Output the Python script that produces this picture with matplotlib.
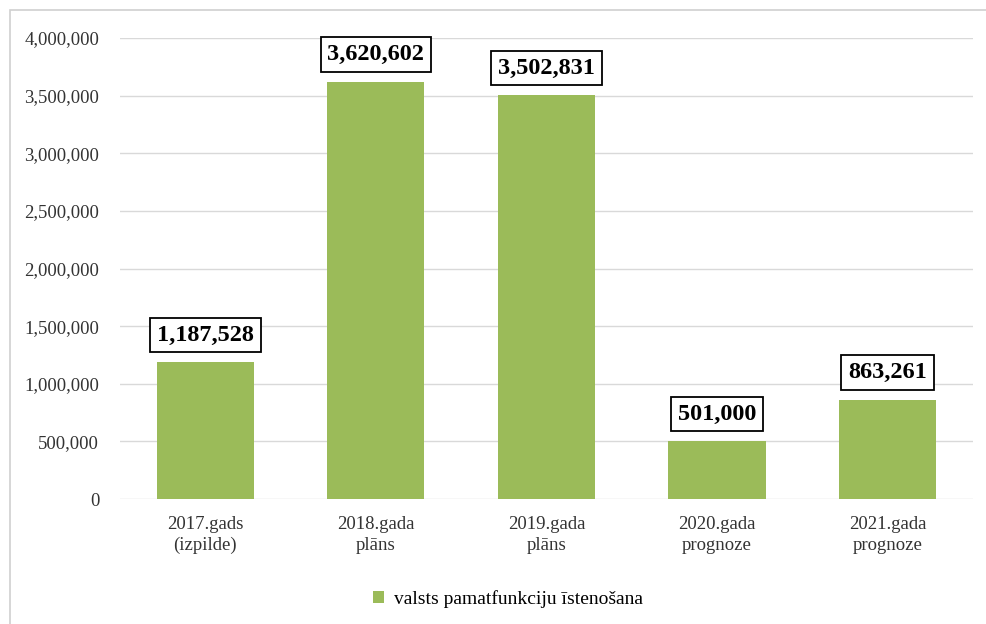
import matplotlib.pyplot as plt
import matplotlib.patches as mpatches
import numpy as np

categories = ['2017.gads\n(izpilde)', '2018.gada\nplāns', '2019.gada\nplāns',
              '2020.gada\nprognoze', '2021.gada\nprognoze']
values = [1187528, 3620602, 3502831, 501000, 863261]
series_name = 'valsts pamatfunkciju īstenošana'

plt.rcParams['font.family'] = ['Liberation Serif', 'DejaVu Serif']

fig = plt.figure(figsize=(9.87, 6.24), dpi=100)
# light outer frame like the source image
fig.patches.append(mpatches.Rectangle((10/987, -0.01), 1.0, 1 - 10/624 + 0.01,
                                      transform=fig.transFigure, fill=False,
                                      edgecolor='#d0d0d0', lw=1.2))
ax = fig.add_axes([0.1216, 0.2003, 0.864, 0.7387])

ind = np.arange(len(categories))
bars = ax.bar(ind, values, width=0.57, color='#9bbb59', label=series_name, zorder=3)

ax.set_xlim(-0.5, len(categories) - 0.5)
ax.set_ylim(0, 4000000)
ax.set_yticks(np.arange(0, 4000001, 500000))
ax.set_yticklabels(['{:,}'.format(int(v)) for v in np.arange(0, 4000001, 500000)],
                   fontsize=13.5, color='#333333')
ax.set_xticks(ind)
ax.set_xticklabels(categories, fontsize=13.5, color='#333333', linespacing=1.3)
ax.tick_params(axis='y', length=0, pad=15)
ax.tick_params(axis='x', length=0, pad=12)
ax.grid(axis='y', color='#d9d9d9', lw=1, zorder=0)
for s in ax.spines.values():
    s.set_visible(False)

for i, v in enumerate(values):
    ax.annotate('{:,}'.format(v), (ind[i], v), xytext=(0, 12), textcoords='offset points',
                ha='center', va='bottom', fontsize=17.5, fontweight='bold',
                bbox=dict(boxstyle='square,pad=0.28', fc='white', ec='black', lw=1.3))

ax.legend(loc='upper center', bbox_to_anchor=(0.455, -0.16), frameon=False,
          fontsize=14, handlelength=0.55, handleheight=0.55, handletextpad=0.5)

plt.savefig('out.png', dpi=100)
